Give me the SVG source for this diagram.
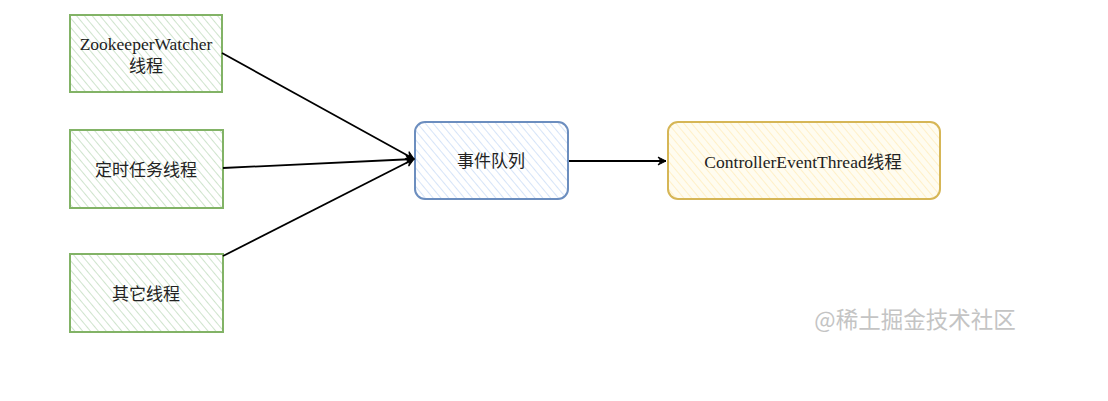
<svg xmlns="http://www.w3.org/2000/svg" width="1108" height="401" viewBox="0 0 1108 401">
<defs>
<pattern id="hg" patternUnits="userSpaceOnUse" width="6" height="6" patternTransform="rotate(-40)"><rect width="6" height="6" fill="#ffffff"/><line x1="0" y1="0" x2="0" y2="6" stroke="#cfe4cd" stroke-width="2"/></pattern>
<pattern id="hb" patternUnits="userSpaceOnUse" width="6" height="6" patternTransform="rotate(-40)"><rect width="6" height="6" fill="#ffffff"/><line x1="0" y1="0" x2="0" y2="6" stroke="#d6e4f8" stroke-width="2"/></pattern>
<pattern id="hy" patternUnits="userSpaceOnUse" width="6" height="6" patternTransform="rotate(-40)"><rect width="6" height="6" fill="#fffcf0"/><line x1="0" y1="0" x2="0" y2="6" stroke="#fff0c8" stroke-width="2"/></pattern>
<marker id="arr" markerWidth="10" markerHeight="10" refX="9" refY="5" orient="auto" markerUnits="userSpaceOnUse"><path d="M1,1 L9,5 L1,9 L4,5 Z" fill="#000" stroke="#000" stroke-width="1"/></marker>
</defs>
<style>
.g{fill:url(#hg);stroke:#82b366;stroke-width:2}
.b{fill:url(#hb);stroke:#6c8ebf;stroke-width:2}
.y{fill:url(#hy);stroke:#d6b656;stroke-width:2}
.t{font-family:"Liberation Serif","Noto Sans CJK SC",serif;font-size:17.5px;fill:#222;text-anchor:middle}
.c{font-family:"Noto Sans CJK SC","Liberation Sans",sans-serif;font-size:17px;fill:#222;text-anchor:middle}
.e{fill:none;stroke:#000;stroke-width:1.8;marker-end:url(#arr)}
</style>
<rect width="1108" height="401" fill="#ffffff"/>
<g id="n1"><rect class="g" x="70" y="15" width="152" height="77"/><text class="t" x="146" y="50">ZookeeperWatcher</text><text class="c" x="146" y="72">线程</text></g>
<g id="n2"><rect class="g" x="70" y="130" width="153" height="78"/><text class="c" x="146" y="176">定时任务线程</text></g>
<g id="n3"><rect class="g" x="70" y="254" width="153" height="78"/><text class="c" x="146" y="300">其它线程</text></g>
<g id="n4"><rect class="b" x="415" y="122" width="153" height="77" rx="10"/><text class="c" x="491" y="167">事件队列</text></g>
<g id="n5"><rect class="y" x="668" y="122" width="272" height="77" rx="10"/><text class="t" x="803" y="168">ControllerEventThread线程</text></g>
<g id="edges">
<path class="e" d="M222,53 L414,159"/>
<path class="e" d="M223,168 L414,159"/>
<path class="e" d="M223,256 L414,159"/>
<path class="e" d="M569,161 L666,161"/>
</g>
<text x="915" y="328" font-family="Noto Sans CJK SC,sans-serif" font-size="22.5" fill="#c4c4c4" text-anchor="middle">@稀土掘金技术社区</text>
</svg>
